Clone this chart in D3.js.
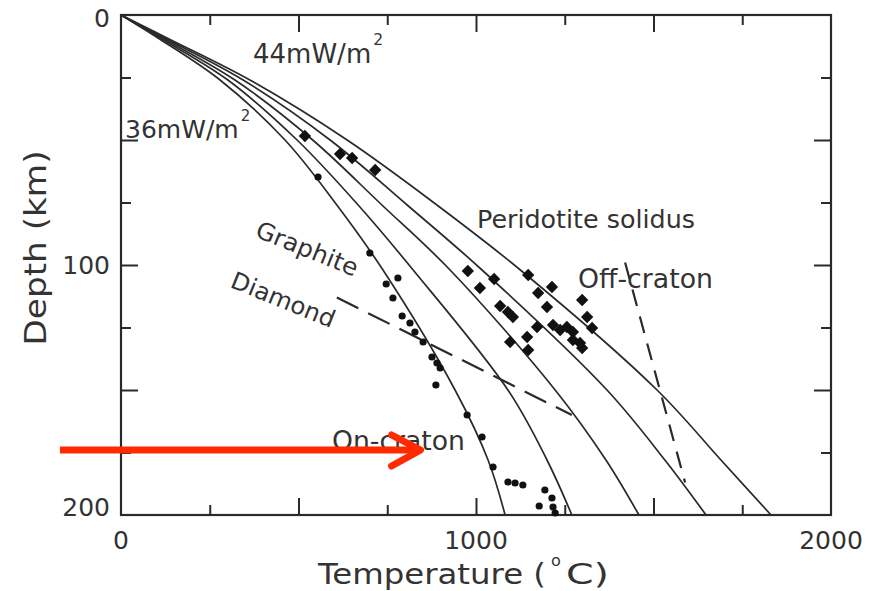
<!DOCTYPE html>
<html><head><meta charset="utf-8">
<script src="https://cdn.jsdelivr.net/npm/d3@7"></script>
<style>body{margin:0;background:#fff}svg{display:block}text{font-family:"DejaVu Sans",sans-serif;fill:#333}</style>
</head><body>
<svg id="c" width="878" height="591"></svg>
<script>
// ---- data ----
const depths = [0, 10, 26, 50, 76, 102, 150, 178, 200];
const geo36 = [0, 113, 279, 462, 608, 738, 941, 1034, 1082];
const geo38 = [0, 120, 301, 496, 668, 823, 1090, 1200, 1270];
const geo40 = [0, 127, 321, 540, 735, 927, 1223, 1366, 1459];
const geo42 = [0, 134, 344, 589, 806, 1017, 1369, 1532, 1648];
const geo44 = [0, 141, 363, 637, 890, 1125, 1510, 1690, 1831];
const graphiteDiamond = [[608, 113], [1270, 160]];
const offCraton = [[1420, 99], [1589, 187]];
const xenoDiamondT = [518, 617, 651, 716, 977, 1011, 1051, 1068, 1090, 1104, 1147, 1175, 1214, 1200, 1172, 1096, 1144, 1147, 1217, 1237, 1273, 1293, 1299, 1313, 1327, 1273, 1256, 1299];
const xenoDiamondD = [48.4, 55.6, 57.2, 62, 102.4, 109.2, 105.6, 116.4, 118.8, 120.8, 104, 111.2, 108.8, 116.8, 124.8, 130.8, 128.8, 134, 124, 126, 126.8, 131.2, 114, 120.8, 125.2, 130, 124.8, 133.2];
const xenoCircleT = [555, 701, 747, 780, 766, 792, 814, 828, 851, 876, 890, 899, 887, 975, 1017, 1048, 1090, 1110, 1132, 1194, 1214, 1178, 1217, 1223];
const xenoCircleD = [64.8, 95.2, 107.6, 105.2, 113.2, 120.4, 123.2, 126.8, 130.8, 136.8, 139.2, 141.2, 148, 160, 168.8, 180.8, 186.8, 187.2, 188, 190, 193.2, 196.4, 196.8, 199.2];
const xTickLabels = [0, 1000, 2000];
const yTickLabels = [0, 100, 200];
const arrow = [[-172, 174], [858, 174]];

// ---- scales ----
const svg = d3.select("#c");
const x = d3.scaleLinear().domain([0, 2000]).range([121, 831]);
const y = d3.scaleLinear().domain([0, 200]).range([15, 515]);
const L = 121, R = 831, T = 15, B = 515;
const ink = "#2a2a2a";

// axes (ticks inward)
function styleAxis(g){ g.select(".domain").remove(); g.selectAll("line").attr("stroke", ink).attr("stroke-width", 2); g.selectAll("text").remove(); }
svg.append("g").attr("transform",`translate(0,${B})`).call(d3.axisBottom(x).tickValues([250,750,1250,1750]).tickSize(-10)).call(styleAxis);
svg.append("g").attr("transform",`translate(0,${B})`).call(d3.axisBottom(x).tickValues([500,1000,1500]).tickSize(-17)).call(styleAxis);
svg.append("g").attr("transform",`translate(0,${T})`).call(d3.axisTop(x).tickValues([250,750,1250,1750]).tickSize(-10)).call(styleAxis);
svg.append("g").attr("transform",`translate(0,${T})`).call(d3.axisTop(x).tickValues([500,1000,1500]).tickSize(-17)).call(styleAxis);
svg.append("g").attr("transform",`translate(${L},0)`).call(d3.axisLeft(y).tickValues([25,75,125,175]).tickSize(-10)).call(styleAxis);
svg.append("g").attr("transform",`translate(${L},0)`).call(d3.axisLeft(y).tickValues([50,100,150]).tickSize(-17)).call(styleAxis);
svg.append("g").attr("transform",`translate(${R},0)`).call(d3.axisRight(y).tickValues([25,75,125,175]).tickSize(-10)).call(styleAxis);
svg.append("g").attr("transform",`translate(${R},0)`).call(d3.axisRight(y).tickValues([50,100,150]).tickSize(-17)).call(styleAxis);
svg.append("rect").attr("x",L).attr("y",T).attr("width",R-L).attr("height",B-T).attr("fill","none").attr("stroke",ink).attr("stroke-width",2.2);

// tick labels
svg.selectAll(".xl").data(xTickLabels).enter().append("text")
  .attr("x", d => x(d)).attr("y", 540).attr("text-anchor","middle").attr("dominant-baseline","central")
  .attr("font-size", 25).attr("fill","#444").text(d => d);
svg.selectAll(".yl").data(yTickLabels).enter().append("text")
  .attr("x", 110).attr("y", d => d === 200 ? y(d) - 8 : (d === 0 ? y(d) + 3 : y(d)))
  .attr("text-anchor","end").attr("dominant-baseline","central")
  .attr("font-size", 25).attr("fill","#444").text(d => d);

// axis titles
svg.append("text").attr("transform","translate(46,248) rotate(-90)").attr("text-anchor","middle")
  .attr("font-size", 30).attr("textLength", 195).attr("lengthAdjust","spacingAndGlyphs").text("Depth (km)");
svg.append("text").attr("x", 318).attr("y", 584).attr("font-size", 29)
  .attr("textLength", 228).attr("lengthAdjust","spacingAndGlyphs").text("Temperature (");
svg.append("text").attr("x", 551).attr("y", 566).attr("font-size", 16).text("o");
svg.append("text").attr("x", 566).attr("y", 584).attr("font-size", 29)
  .attr("textLength", 43).attr("lengthAdjust","spacingAndGlyphs").text("C)");

// geotherms
const geos = [geo36, geo38, geo40, geo42, geo44];
const line = d3.line().x(d => x(d[0])).y(d => y(d[1])).curve(d3.curveCatmullRom.alpha(0.5));
svg.selectAll(".geo").data(geos).enter().append("path")
  .attr("d", g => line(g.map((t, i) => [t, depths[i]])))
  .attr("fill","none").attr("stroke", ink).attr("stroke-width", 1.7);

// dashed lines
const sline = d3.line().x(d => x(d[0])).y(d => y(d[1]));
svg.append("path").attr("d", sline(graphiteDiamond)).attr("fill","none").attr("stroke",ink)
  .attr("stroke-width",2.2).attr("stroke-dasharray","24,11");
svg.append("path").attr("d", sline(offCraton)).attr("fill","none").attr("stroke",ink)
  .attr("stroke-width",2.2).attr("stroke-dasharray","17,11");

// xenolith points
svg.selectAll(".dm").data(xenoDiamondT.map((t,i)=>[t,xenoDiamondD[i]])).enter().append("path")
  .attr("d", d3.symbol().type(d3.symbolSquare).size(76)())
  .attr("transform", d => `translate(${x(d[0])},${y(d[1])}) rotate(45)`)
  .attr("fill", "#111");
svg.selectAll(".ci").data(xenoCircleT.map((t,i)=>[t,xenoCircleD[i]])).enter().append("circle")
  .attr("cx", d => x(d[0])).attr("cy", d => y(d[1])).attr("r", 3.6).attr("fill","#111");

// labels
function withSup(px, py, fs, main, sp){
  const t = svg.append("text").attr("x", px).attr("y", py).attr("font-size", fs).text(main);
  const w = t.node().getComputedTextLength();
  svg.append("text").attr("x", px + w + 2).attr("y", py - fs*0.7).attr("font-size", fs*0.6).text(sp);
}
withSup(253, 63, 26, "44mW/m", "2");
withSup(125, 138, 25, "36mW/m", "2");
svg.append("text").attr("x",477).attr("y",228).attr("font-size",25).attr("textLength",218).attr("lengthAdjust","spacingAndGlyphs").text("Peridotite solidus");
svg.append("text").attr("x",578).attr("y",288).attr("font-size",26).attr("textLength",135).attr("lengthAdjust","spacingAndGlyphs").text("Off-craton");
svg.append("text").attr("x",332).attr("y",450).attr("font-size",26).attr("textLength",133).attr("lengthAdjust","spacingAndGlyphs").text("On-craton");
svg.append("text").attr("transform","translate(307,249) rotate(22)").attr("text-anchor","middle").attr("dominant-baseline","central")
  .attr("font-size",24).attr("textLength",108).attr("lengthAdjust","spacingAndGlyphs").text("Graphite");
svg.append("text").attr("transform","translate(283,300) rotate(22)").attr("text-anchor","middle").attr("dominant-baseline","central")
  .attr("font-size",24).attr("textLength",110).attr("lengthAdjust","spacingAndGlyphs").text("Diamond");

// red annotation arrow
const a0 = [x(arrow[0][0]), y(arrow[0][1])], a1 = [x(arrow[1][0]) - 5, y(arrow[1][1])];
svg.append("line").attr("x1",a0[0]).attr("y1",a0[1]).attr("x2",a1[0]).attr("y2",a1[1])
  .attr("stroke","#ff2a00").attr("stroke-width",7);
svg.append("path").attr("d",`M${a1[0]-29},${a1[1]-15}L${a1[0]},${a1[1]}L${a1[0]-29},${a1[1]+16}`)
  .attr("fill","none").attr("stroke","#ff2a00").attr("stroke-width",7).attr("stroke-linecap","round").attr("stroke-linejoin","round");
</script>
</body></html>
